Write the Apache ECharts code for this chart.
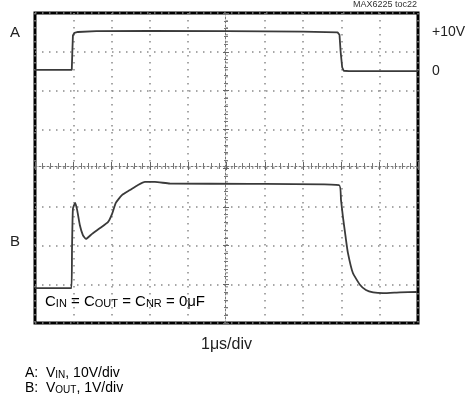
<!DOCTYPE html>
<html>
<head>
<meta charset="utf-8">
<script src="https://cdn.jsdelivr.net/npm/echarts@6/dist/echarts.min.js"></script>
<style>
html, body { margin: 0; padding: 0; background: #fff; }
#scope { width: 469px; height: 410px; }
</style>
</head>
<body>
<div id="scope"></div>
<script>
// trace A: input step, time in us, volts (10V/div)
var timeA = [0, 0.96, 0.975, 0.99, 1.03, 1.12, 1.6, 3, 5, 7, 7.9, 7.95, 7.98, 8.02, 8.06, 8.2, 10];
var voltA = [0.3, 0.3, 5, 9.2, 9.9, 10.1, 10.3, 10.35, 10.3, 10.2, 10.0, 9.4, 5, 1, 0.1, 0, 0];

// trace B: output, time in us, volts (1V/div)
var timeB = [0, 0.95, 0.966, 0.99, 1.05, 1.10, 1.17, 1.25, 1.33, 1.49, 1.70, 1.91, 2.01, 2.11, 2.27,
             2.48, 2.69, 2.87, 3.13, 3.52, 5.61, 7.94, 7.99, 8.04, 8.11, 8.17, 8.30, 8.49, 8.64, 8.83, 9.09, 9.53, 9.97];
var voltB = [0, 0, 0.98, 2.05, 2.2, 2.02, 1.63, 1.37, 1.27, 1.40, 1.55, 1.71, 1.91, 2.20, 2.40,
             2.53, 2.66, 2.74, 2.74, 2.70, 2.69, 2.66, 2.27, 1.84, 1.32, 0.91, 0.39, 0.08, -0.05, -0.11, -0.13, -0.11, -0.1];

var aLabels = {'10': '+10V', '0': '0'};

var FONT = '"Liberation Sans", Arial, sans-serif';

function pairs(xs, ys) {
  var out = [];
  for (var i = 0; i < xs.length; i++) out.push([xs[i], ys[i]]);
  return out;
}

var chart = echarts.init(document.getElementById('scope'), null, {renderer: 'canvas'});

var dotted = {color: '#8a8a8a', width: 1.5, type: [1.5, 5.5]};
var centreLine = {color: '#777', width: 1, type: [2, 2]};
var centreTick = {show: true, inside: true, length: 4, lineStyle: {color: '#666', width: 1}};
var centreMinor = {show: true, splitNumber: 5, length: 3, lineStyle: {color: '#777', width: 1}};

var option = {
  animation: false,
  backgroundColor: '#fff',
  grid: {
    left: 35, top: 13, width: 383, height: 310,
    show: true, borderColor: '#000', borderWidth: 3, backgroundColor: '#fff'
  },
  xAxis: [
    {
      type: 'value', min: 0, max: 10, interval: 1,
      name: '1\u03bcs/div', nameLocation: 'middle', nameGap: 14,
      nameTextStyle: {fontFamily: FONT, fontSize: 16, color: '#222', verticalAlign: 'top'},
      axisLine: {show: false}, axisTick: {show: false}, axisLabel: {show: false},
      splitLine: {show: true, lineStyle: dotted}
    },
    {
      type: 'value', min: 0, max: 10, interval: 1, position: 'bottom', offset: -157,
      axisLine: {show: true, onZero: false, lineStyle: centreLine},
      axisTick: centreTick, minorTick: centreMinor,
      axisLabel: {show: false}, splitLine: {show: false}
    },
    {
      type: 'value', min: 0, max: 10, interval: 1, position: 'top', offset: -153,
      axisLine: {show: false},
      axisTick: centreTick, minorTick: centreMinor,
      axisLabel: {show: false}, splitLine: {show: false}
    }
  ],
  yAxis: [
    {
      type: 'value', min: 0, max: 8, interval: 1,
      axisLine: {show: false}, axisTick: {show: false}, axisLabel: {show: false},
      splitLine: {show: true, lineStyle: dotted}
    },
    {
      type: 'value', min: -65, max: 15, interval: 5, position: 'right',
      axisLine: {show: false}, axisTick: {show: false}, splitLine: {show: false},
      axisLabel: {
        show: true, margin: 14, fontFamily: FONT, fontSize: 14, color: '#222',
        formatter: function (v) { return aLabels[String(v)] || ''; }
      }
    },
    {
      type: 'value', min: -0.9, max: 7.1, show: false
    },
    {
      type: 'value', min: 0, max: 8, interval: 1, position: 'left', offset: -190,
      axisLine: {show: true, onZero: false, lineStyle: centreLine},
      axisTick: centreTick, minorTick: centreMinor,
      axisLabel: {show: false}, splitLine: {show: false}
    },
    {
      type: 'value', min: 0, max: 8, interval: 1, position: 'right', offset: -191,
      axisLine: {show: false},
      axisTick: centreTick, minorTick: centreMinor,
      axisLabel: {show: false}, splitLine: {show: false}
    }
  ],
  series: [
    {
      name: 'A', type: 'line', xAxisIndex: 0, yAxisIndex: 1,
      data: pairs(timeA, voltA), showSymbol: false, smooth: false,
      lineStyle: {color: '#3a3a3a', width: 1.8}
    },
    {
      name: 'B', type: 'line', xAxisIndex: 0, yAxisIndex: 2,
      data: pairs(timeB, voltB), showSymbol: false, smooth: 0.15,
      lineStyle: {color: '#3a3a3a', width: 1.8}
    }
  ],
  graphic: [
    {type: 'text', right: 52, top: 0, style: {text: 'MAX6225 toc22', font: '9px ' + FONT, fill: '#333'}},
    {type: 'text', left: 10, top: 25, style: {text: 'A', font: '15px ' + FONT, fill: '#222'}},
    {type: 'text', left: 10, top: 234, style: {text: 'B', font: '15px ' + FONT, fill: '#222'}},
    {
      type: 'text', left: 45, top: 294,
      style: {
        text: '{n|C}{s|IN}{n| = C}{s|OUT}{n| = C}{s|NR}{n| = 0\u03bcF}',
        rich: {
          n: {fontFamily: FONT, fontSize: 15, color: '#222', lineHeight: 18, verticalAlign: 'bottom'},
          s: {fontFamily: FONT, fontSize: 11, color: '#222', lineHeight: 14, verticalAlign: 'bottom', padding: [4, 0, 0, 0]}
        }
      }
    },
    {
      type: 'text', left: 25, top: 366,
      style: {
        text: '{n|A:  V}{s|IN}{n|, 10V/div}\n{n|B:  V}{s|OUT}{n|, 1V/div}',
        rich: {
          n: {fontFamily: FONT, fontSize: 14, color: '#222', lineHeight: 15, verticalAlign: 'bottom'},
          s: {fontFamily: FONT, fontSize: 10, color: '#222', lineHeight: 11, verticalAlign: 'bottom'}
        }
      }
    }
  ]
};

chart.setOption(option);
</script>
</body>
</html>
